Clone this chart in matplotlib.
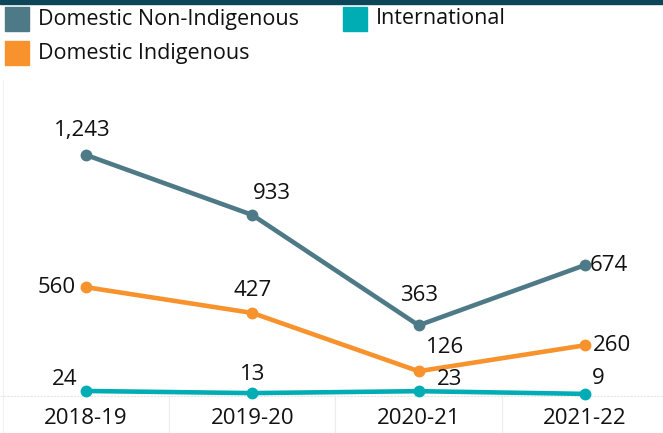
import matplotlib
matplotlib.use("Agg")
import matplotlib.pyplot as plt

plt.rcParams['font.family'] = ['Open Sans', 'DejaVu Sans']

years = ["2018-19", "2019-20", "2020-21", "2021-22"]
non_indigenous = [1243, 933, 363, 674]
indigenous = [560, 427, 126, 260]
international = [24, 13, 23, 9]

c_non = "#4e7a87"
c_ind = "#f7922c"
c_int = "#00adb5"

# label offsets in pixels (dx, dy) - mimics the original placement
off_non = [(-4, 24), (20, 21), (0, 30), (24, 0)]
off_ind = [(-29, 0), (0, 22), (26, 24), (27, 0)]
off_int = [(-21, 11), (0, 19), (31, 12), (13, 15)]

fig = plt.figure(figsize=(6.63, 4.33), dpi=100)
ax = fig.add_axes([0, 0, 1, (433 - 80) / 433])
x = list(range(len(years)))

for vals, col, offs in [(non_indigenous, c_non, off_non),
                        (indigenous, c_ind, off_ind),
                        (international, c_int, off_int)]:
    ax.plot(x, vals, color=col, lw=3.3, marker="o", ms=7.5, solid_capstyle="round", zorder=3)
    for xi, v, (dx, dy) in zip(x, vals, offs):
        ax.annotate("{:,}".format(v), (xi, v), xytext=(dx, dy), textcoords="offset pixels",
                    ha="center", va="center", fontsize=16, color="#111111")

ax.set_xlim(-86 / 166.3, (663 - 86) / 166.3)
ax.set_ylim(-193, 1630)
ax.axis("off")

# baseline and category separators
ax.axhline(0, color="#e6e6e6", lw=0.8, ls=(0, (2, 1)), zorder=1)
for b in [0.5, 1.5, 2.5]:
    ax.plot([b, b], [0, -193], color="#ececec", lw=0.8, zorder=1)
ax.plot([-0.5, -0.5], [-193, 1630], color="#f0f0f0", lw=0.8, zorder=1)

for xi, yr in zip(x, years):
    ax.text(xi, -118, yr, ha="center", va="center", fontsize=16, color="#111111")

# top bar
fig.patches.append(plt.Rectangle((0, 1 - 3.5 / 433), 1, 3.5 / 433, transform=fig.transFigure,
                                 color="#0d4658"))

# legend
legend_items = [("Domestic Non-Indigenous", c_non, 5, 19),
                ("International", c_int, 343, 19),
                ("Domestic Indigenous", c_ind, 5, 53)]
for name, col, px, py in legend_items:
    fig.patches.append(plt.Rectangle((px / 663, 1 - (py + 12) / 433), 24 / 663, 24 / 433,
                                     transform=fig.transFigure, color=col))
    fig.text((px + 33) / 663, 1 - py / 433, name, ha="left", va="center",
             fontsize=15.5, color="#111111")

fig.savefig("out.png", dpi=100)
